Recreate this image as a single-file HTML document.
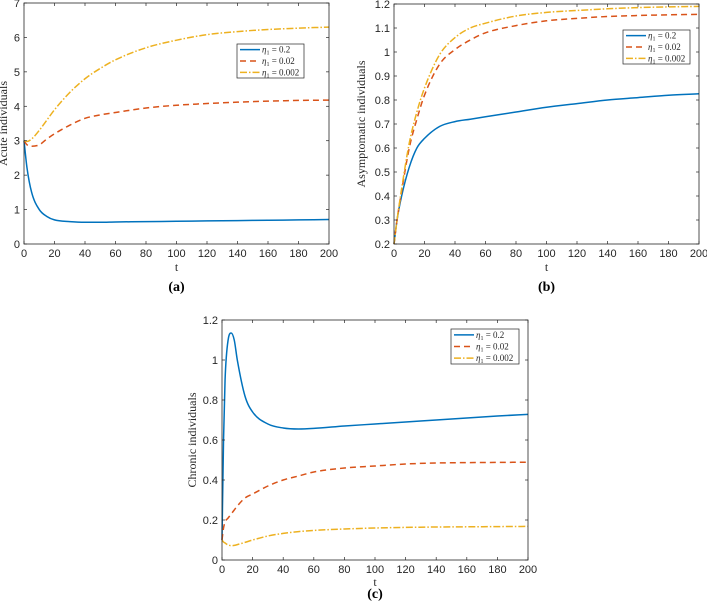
<!DOCTYPE html>
<html><head><meta charset="utf-8"><style>
body{margin:0;background:#fff;}
svg{display:block;font-family:"Liberation Serif",serif;}
</style></head><body>
<svg id="fig" width="707" height="609" viewBox="0 0 707 609"></svg>
<script>
const tA=[0,2,5,10,15,20,30,40,50,60,80,100,120,140,160,180,200];
const aBlue=[3,2.2,1.5,1.0,0.8,0.7,0.65,0.63,0.63,0.64,0.65,0.66,0.67,0.68,0.69,0.70,0.71];
const aRed=[3,2.88,2.84,2.88,3.05,3.2,3.45,3.65,3.75,3.82,3.95,4.03,4.08,4.12,4.15,4.17,4.18];
const aYellow=[3,2.98,3.05,3.3,3.6,3.9,4.4,4.8,5.1,5.35,5.7,5.92,6.08,6.17,6.23,6.27,6.3];
const bBlue=[0.2,0.3,0.4,0.52,0.6,0.64,0.69,0.71,0.72,0.73,0.75,0.77,0.785,0.80,0.81,0.82,0.826];
const bRed=[0.2,0.3,0.42,0.6,0.72,0.82,0.95,1.01,1.05,1.08,1.11,1.13,1.14,1.148,1.152,1.155,1.157];
const bYellow=[0.2,0.3,0.43,0.62,0.75,0.85,0.99,1.06,1.1,1.12,1.15,1.165,1.173,1.18,1.185,1.188,1.19];
const tC=[0,1,2,4,6,8,10,15,20,30,40,50,60,80,100,120,140,160,180,200];
const cBlue=[0.1,0.6,0.9,1.1,1.135,1.1,1.0,0.82,0.74,0.68,0.66,0.655,0.658,0.67,0.68,0.69,0.70,0.71,0.72,0.728];
const cRed=[0.1,0.16,0.19,0.21,0.23,0.25,0.27,0.31,0.33,0.37,0.40,0.42,0.44,0.46,0.47,0.48,0.485,0.487,0.488,0.489];
const cYellow=[0.1,0.09,0.085,0.075,0.072,0.073,0.077,0.088,0.1,0.12,0.133,0.142,0.148,0.155,0.16,0.163,0.165,0.166,0.167,0.168];
const xTicks=[0,20,40,60,80,100,120,140,160,180,200];
const aTicks=[0,1,2,3,4,5,6,7];
const bTicks=[0.2,0.3,0.4,0.5,0.6,0.7,0.8,0.9,1,1.1,1.2];
const cTicks=[0,0.2,0.4,0.6,0.8,1,1.2];
const legendLabels=["0.2","0.02","0.002"];

const NS="http://www.w3.org/2000/svg";
const fig=document.getElementById('fig');
function mk(tag,attrs,parent){const e=document.createElementNS(NS,tag);for(const k in attrs)e.setAttribute(k,attrs[k]);(parent||fig).appendChild(e);return e;}
const colors=["#0072BD","#D95319","#EDB120"];
const dashes=["none","6,4","7,2,1.5,2"];

function smoothPath(pts){
  // monotone cubic (Fritsch-Carlson) through pts
  const n=pts.length;
  const dx=[],m=[],s=[];
  for(let i=0;i<n-1;i++){dx.push(pts[i+1][0]-pts[i][0]);s.push((pts[i+1][1]-pts[i][1])/dx[i]);}
  m[0]=s[0];m[n-1]=s[n-2];
  for(let i=1;i<n-1;i++){m[i]=(s[i-1]*s[i]<=0)?0:(s[i-1]+s[i])/2;}
  for(let i=0;i<n-1;i++){
    if(s[i]===0){m[i]=0;m[i+1]=0;continue;}
    const a=m[i]/s[i],b=m[i+1]/s[i],h=a*a+b*b;
    if(h>9){const t=3/Math.sqrt(h);m[i]=t*a*s[i];m[i+1]=t*b*s[i];}
  }
  let d='M'+pts[0][0].toFixed(2)+','+pts[0][1].toFixed(2);
  for(let i=0;i<n-1;i++){
    const h=dx[i]/3;
    d+=' C'+(pts[i][0]+h).toFixed(2)+','+(pts[i][1]+m[i]*h).toFixed(2)+' '+(pts[i+1][0]-h).toFixed(2)+','+(pts[i+1][1]-m[i+1]*h).toFixed(2)+' '+pts[i+1][0].toFixed(2)+','+pts[i+1][1].toFixed(2);
  }
  return d;
}

function panel(id,box,xmax,ymin,ymax,yTicks,ylabel,yOff,t,series,leg,lab,labY,tY){
  const g=mk('g',{});
  
  
  const [x0,y0,x1,y1]=box;
  const sx=v=>x0+(v/xmax)*(x1-x0);
  const sy=v=>y1-(v-ymin)/(ymax-ymin)*(y1-y0);
  series.forEach((s,i)=>{
    const p=mk('path',{d:smoothPath(s.map((v,j)=>[sx(t[j]),sy(v)])),fill:'none',stroke:colors[i],'stroke-width':1.5,'stroke-dasharray':dashes[i],'stroke-linejoin':'round'},g);
    
    
  });
  const r=mk('rect',{x:x0,y:y0,width:x1-x0,height:y1-y0,fill:'none',stroke:'#262626','stroke-width':0.8},g);
  
  
  xTicks.forEach(v=>{
    const x=sx(v);
    mk('line',{x1:x,y1:y1,x2:x,y2:y1-3,stroke:'#262626','stroke-width':0.7},g);
    mk('line',{x1:x,y1:y0,x2:x,y2:y0+3,stroke:'#262626','stroke-width':0.7},g);
    const tx=mk('text',{x:x,y:y1+13,'text-anchor':'middle','font-size':11,fill:'#262626','font-family':'Liberation Sans, sans-serif'},g);
    tx.textContent=v;
    
    
  });
  yTicks.forEach(v=>{
    const y=sy(v);
    mk('line',{x1:x0,y1:y,x2:x0+3,y2:y,stroke:'#262626','stroke-width':0.7},g);
    mk('line',{x1:x1,y1:y,x2:x1-3,y2:y,stroke:'#262626','stroke-width':0.7},g);
    const tx=mk('text',{x:x0-4,y:y+4,'text-anchor':'end','font-size':11,fill:'#262626','font-family':'Liberation Sans, sans-serif'},g);
    tx.textContent=v;
    
    
  });
  const xl=mk('text',{x:(x0+x1)/2,y:tY,'text-anchor':'middle','font-size':12,fill:'#262626'},g);
  xl.textContent='t';
  
  
  const yl=mk('text',{x:0,y:0,'text-anchor':'middle','font-size':12,fill:'#262626',transform:`translate(${x0-yOff},${(y0+y1)/2}) rotate(-90)`},g);
  yl.textContent=ylabel;
  
  
  const [lx0,ly0,lx1,ly1]=leg;
  const lg=mk('g',{},g);
  
  
  mk('rect',{x:lx0,y:ly0,width:lx1-lx0,height:ly1-ly0,fill:'#fff',stroke:'#262626','stroke-width':0.7},lg);
  const h=(ly1-ly0)/3;
  legendLabels.forEach((l,i)=>{
    const yy=ly0+h*(i+0.5);
    mk('line',{x1:lx0+3,y1:yy,x2:lx0+23,y2:yy,stroke:colors[i],'stroke-width':1.5,'stroke-dasharray':dashes[i]},lg);
    const tx=mk('text',{x:lx0+25,y:yy+3,'font-size':9,fill:'#262626'},lg);
    tx.innerHTML='<tspan font-style="italic">η</tspan><tspan font-size="6" dy="2">1</tspan><tspan dy="-2"> = '+l+'</tspan>';
    
    
  });
  const pl=mk('text',{x:(x0+x1)/2,y:labY,'text-anchor':'middle','font-size':14,'font-weight':'bold',fill:'#000'},g);
  pl.textContent=lab;
  
  
}
panel('a',[24,3,329,244],200,0,7,aTicks,'Acute individuals',17,tA,[aBlue,aRed,aYellow],[237,44,304,78],'(a)',291,271);
panel('b',[394,4,699,244],200,0.2,1.2,bTicks,'Asymptomatic individuals',29,tA,[bBlue,bRed,bYellow],[623,30,690,64],'(b)',291,271);
panel('c',[222,320,528,560],200,0,1.2,cTicks,'Chronic individuals',26,tC,[cBlue,cRed,cYellow],[451,329,519,364],'(c)',598,586);
</script>
</body></html>
